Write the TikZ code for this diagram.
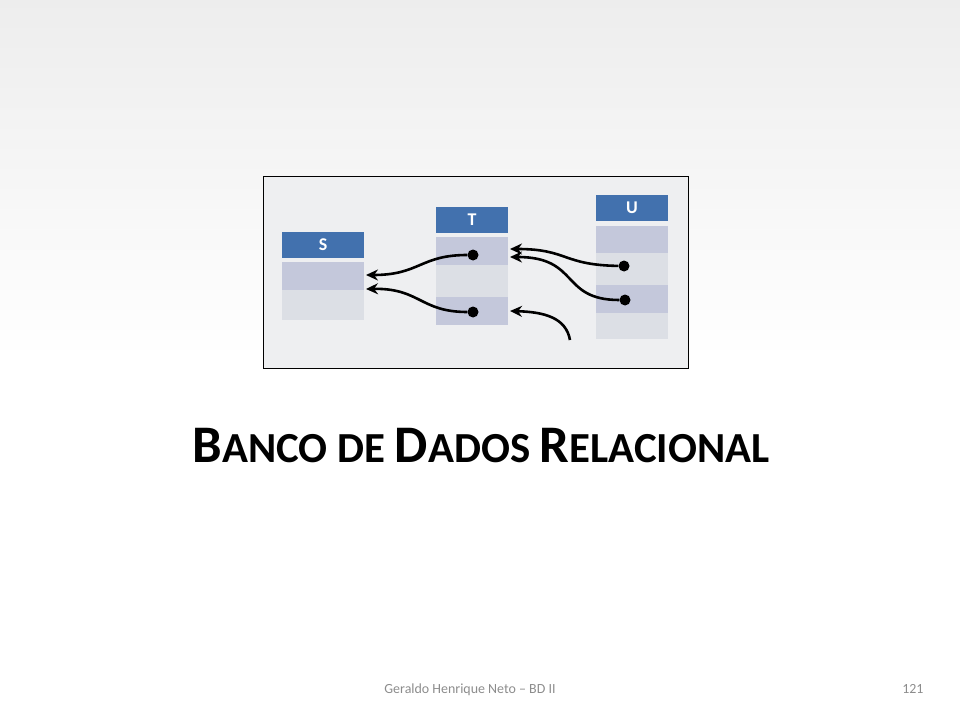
\documentclass[tikz,border=0pt]{standalone}
\usepackage{fontspec}
\setmainfont{Carlito}
\usetikzlibrary{arrows.meta}
\definecolor{tblblue}{HTML}{4271AE}
\definecolor{rowlav}{HTML}{C4C8DB}
\definecolor{rowgrey}{HTML}{DCDFE5}
\definecolor{panelgrey}{HTML}{EEEFF1}
\definecolor{footgrey}{HTML}{8C8C8C}
\newcommand{\titlecap}[1]{{\fontsize{53}{53}\selectfont #1}}

\begin{document}
\begin{tikzpicture}[x=1bp, y=-1bp,
  cell/.style={anchor=north west, inner sep=0pt, outer sep=0pt},
  hdr/.style={cell, fill=tblblue, text=white, font=\fontsize{18}{18}\selectfont\bfseries},
  dot/.style={circle, fill=black, inner sep=0pt, minimum size=11bp},
  ref/.style={line width=2.6bp, -{Stealth[length=12bp,width=11bp]}}]
\useasboundingbox (0,0) rectangle (960,720);
\shade[top color=black!7, bottom color=white] (0,0) rectangle (960,360);
\draw[line width=0.8bp, fill=panelgrey] (263,176) rectangle (688,368);
% table headers and rows
\foreach \n/\x/\y/\w in {S/282/232/82bp, T/436/207/72bp, U/596/195/72bp}
  \node[hdr, minimum width=\w, minimum height=26bp] (\n) at (\x,\y) {\n};
\foreach \n/\x/\y/\w/\h/\c in {S1/282/262/82bp/28bp/rowlav, S2/282/290/82bp/30bp/rowgrey,
    T1/436/237/72bp/28bp/rowlav, T2/436/265/72bp/32bp/rowgrey, T3/436/297/72bp/28bp/rowlav,
    U1/596/226/72bp/27bp/rowlav, U2/596/253/72bp/32bp/rowgrey, U3/596/285/72bp/28bp/rowlav,
    U4/596/313/72bp/26bp/rowgrey}
  \node[cell, fill=\c, minimum width=\w, minimum height=\h] (\n) at (\x,\y) {};
% foreign keys
\node[dot] (t1) at (473,255) {};
\node[dot] (t3) at (473,312) {};
\node[dot] (u2) at (624,266) {};
\node[dot] (u3) at (625,300) {};
\coordinate (ext) at (570,340);
\draw[ref] (t1) .. controls (420,255) and (420,275) .. ([xshift=2bp,yshift=1bp]S1.east);
\draw[ref] (t3) .. controls (420,312) and (420,288) .. ([xshift=2bp,yshift=1bp]S1.south east);
\draw[ref] (u2) .. controls (562,265) and (568,249) .. ([xshift=2bp,yshift=2bp]T1.east);
\draw[ref] (u3) .. controls (560,300) and (580,257) .. ([xshift=2bp,yshift=-6bp]T1.east);
\draw[ref] (ext) .. controls (566,318) and (545,312) .. ([xshift=2bp]T3.east);
\node[anchor=base, font=\bfseries\fontsize{43}{43}\selectfont] (title) at (481,462)
  {\titlecap{B}ANCO DE \titlecap{D}ADOS \titlecap{R}ELACIONAL};
\node[anchor=base, text=footgrey, font=\fontsize{14}{14}\selectfont] (foot) at (470,693) {Geraldo Henrique Neto -- BD II};
\node[anchor=base east, text=footgrey, font=\fontsize{14}{14}\selectfont] (pnum) at (927,693) {121};
\end{tikzpicture}
\end{document}
